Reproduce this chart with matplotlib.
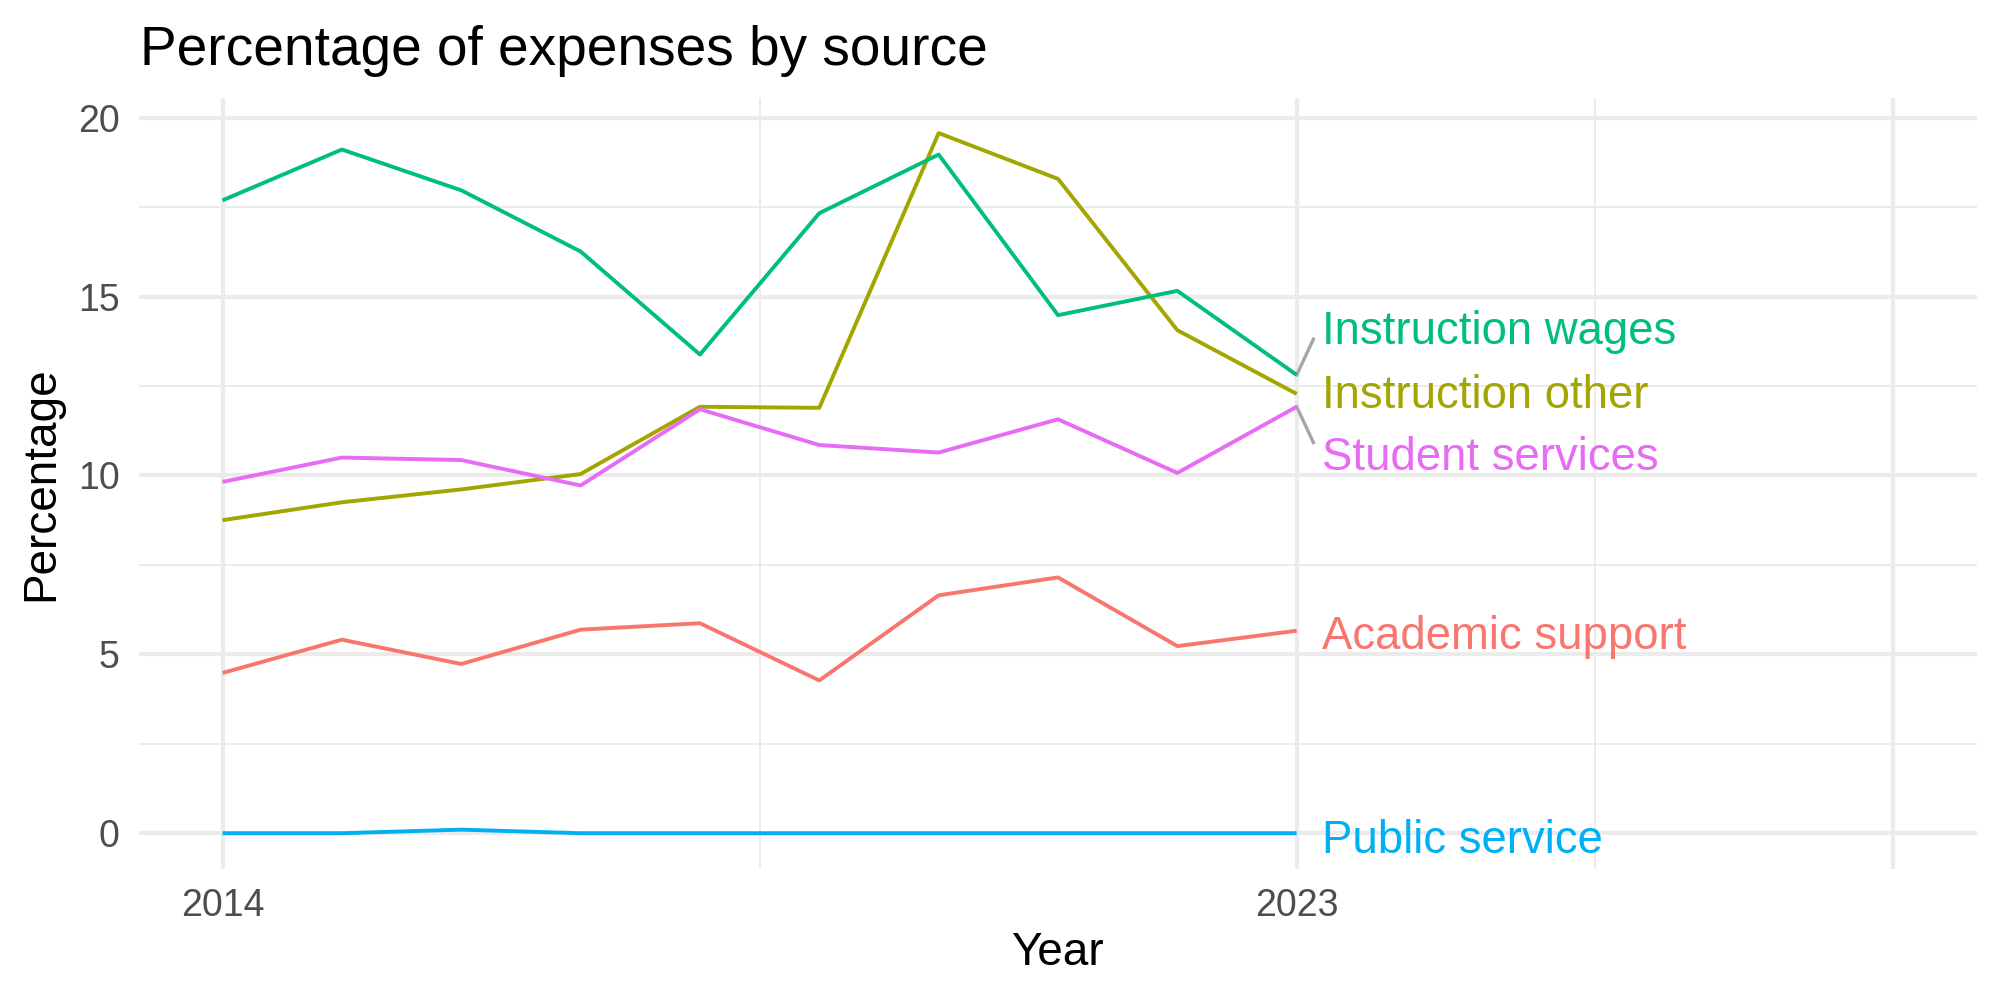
import numpy as np
import matplotlib.pyplot as plt

plt.rcParams['font.family'] = ['Liberation Sans', 'DejaVu Sans']

years = np.arange(2014, 2024)

academic_support = [4.48, 5.41, 4.73, 5.69, 5.87, 4.27, 6.65, 7.15, 5.23, 5.66]
instruction_other = [8.75, 9.25, 9.61, 10.04, 11.92, 11.89, 19.57, 18.29, 14.06, 12.28]
instruction_wages = [17.69, 19.11, 17.97, 16.26, 13.38, 17.33, 18.97, 14.48, 15.16, 12.81]
public_service = [0.0, 0.0, 0.1, 0.0, 0.0, 0.0, 0.0, 0.0, 0.0, 0.0]
student_services = [9.82, 10.50, 10.43, 9.72, 11.85, 10.85, 10.64, 11.57, 10.07, 11.92]

names = ['Academic support', 'Instruction other', 'Instruction wages',
         'Public service', 'Student services']
series = [academic_support, instruction_other, instruction_wages,
          public_service, student_services]
colors = ['#F8766D', '#A3A500', '#00BF7D', '#00B0F6', '#E76BF3']
# repelled label heights (data units)
label_y = [5.63, 12.36, 14.14, -0.07, 10.64]

fig = plt.figure(figsize=(10, 5), dpi=200)
ax = fig.add_axes([0.0695, 0.131, 0.919, 0.771])

for name, vals, col, ly in zip(names, series, colors, label_y):
    ax.plot(years, vals, color=col, lw=1.4, solid_capstyle='butt', zorder=3)
    x_end, y_end = years[-1], vals[-1]
    if abs(ly - y_end) > 0.6:
        # short grey connector like ggrepel
        ax.plot([x_end, x_end + 0.14], [y_end, y_end + np.sign(ly - y_end) * 1.0],
                color='#A6A6A6', lw=1.2, zorder=2)
    ax.text(x_end + 0.21, ly, name, color=col, fontsize=16.4,
            ha='left', va='center_baseline')

ax.set_xlim(2013.3, 2028.7)
ax.set_ylim(-1.0, 20.55)
ax.set_xticks([2014, 2023, 2028])
ax.set_xticklabels(['2014', '2023', ''])
ax.set_xticks([2018.5, 2025.5], minor=True)
ax.set_yticks([0, 5, 10, 15, 20])
ax.set_yticks([2.5, 7.5, 12.5, 17.5], minor=True)

ax.grid(which='major', color='#EBEBEB', lw=1.5)
ax.grid(which='minor', color='#EBEBEB', lw=0.7)
ax.set_axisbelow(True)
for s in ax.spines.values():
    s.set_visible(False)
ax.tick_params(which='both', length=0, labelsize=13.5, labelcolor='#4D4D4D', pad=7)

fig.text(0.5285, 0.035, 'Year', fontsize=16.5, ha='center', va='baseline')
fig.text(0.0205, 0.5165, 'Percentage', fontsize=16.5, rotation=90, ha='center', va='center')
fig.text(0.07, 0.935, 'Percentage of expenses by source', fontsize=19.8,
         ha='left', va='baseline')

fig.savefig('out.png', dpi=200)
